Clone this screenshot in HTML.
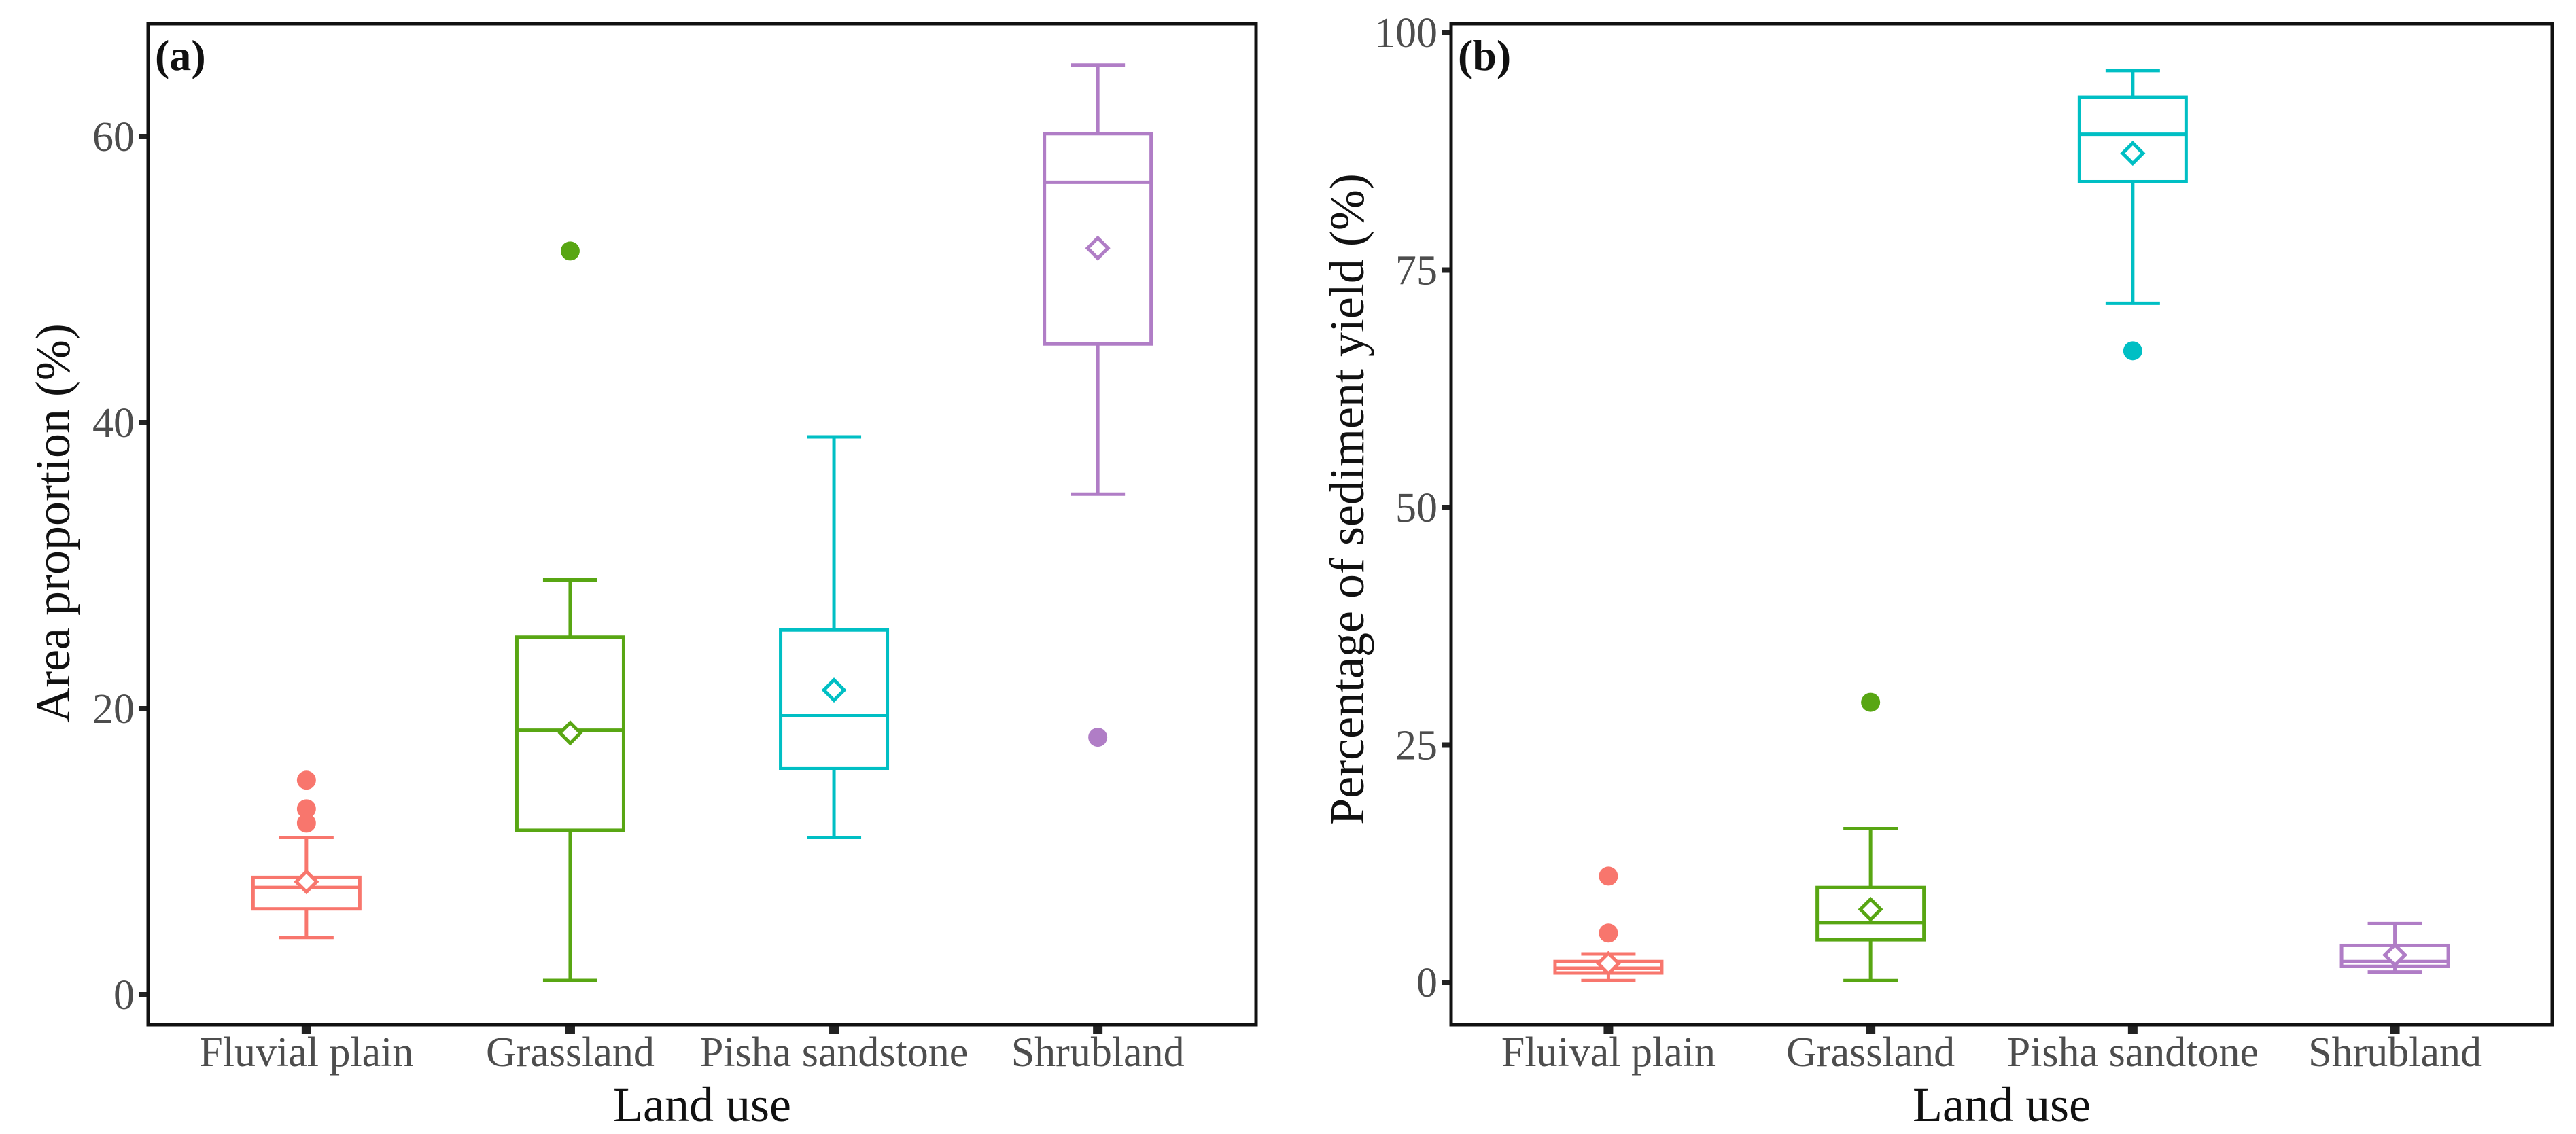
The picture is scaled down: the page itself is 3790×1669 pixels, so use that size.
<!DOCTYPE html>
<html><head><meta charset="utf-8"><style>
html,body{margin:0;padding:0;background:#fff}
svg{display:block}
text{font-family:"Liberation Serif",serif}
</style></head><body>
<svg id="chart" width="3790" height="1669" viewBox="0 0 3790 1669" xmlns="http://www.w3.org/2000/svg"></svg>
<script>
const categoriesA = ["Fluvial plain","Grassland","Pisha sandstone","Shrubland"];
const categoriesB = ["Fluival plain","Grassland","Pisha sandtone","Shrubland"];
const colors = ["#F8766D","#58a613","#00BFC4","#B07DC6"];
// [lower whisker, q1, median, q3, upper whisker]
const statsA = [[4,6,7.5,8.2,11],[1,11.5,18.5,25,29],[11,15.8,19.5,25.5,39],[35,45.5,56.8,60.2,65]];
const meansA = [7.9,18.3,21.3,52.2];
const outliersA = [[12,13,15],[52],[],[18]];
const ticksA = [0,20,40,60];
const statsB = [[0.2,1.0,1.5,2.2,3.0],[0.2,4.5,6.3,10,16.2],[71.5,84.3,89.3,93.2,96],[1.1,1.7,2.2,3.9,6.2]];
const meansB = [2.0,7.7,87.3,2.9];
const outliersB = [[5.2,11.2],[29.5],[66.5],[]];
const ticksB = [0,25,50,75,100];

const NS="http://www.w3.org/2000/svg";
const svg=document.getElementById('chart');
function mk(tag,attrs,parent){const e=document.createElementNS(NS,tag);for(const k in attrs)e.setAttribute(k,attrs[k]);(parent||svg).appendChild(e);return e;}

function panel(cfg){
  const g=mk('g',{});
  
  
  const unit=(cfg.right-cfg.left)/(cfg.cats.length-1+1.2);
  const xs=i=>cfg.left+unit*(0.6+i);
  const ys=v=>cfg.y0+(cfg.y1-cfg.y0)*(v-cfg.v0)/(cfg.v1-cfg.v0);
  const bw=157, cw=80;
  cfg.ticks.forEach(t=>{
    const tk=mk('rect',{x:cfg.left-13,y:ys(t)-4,width:13,height:8,fill:'#222'},g);
    
    
    const tl=mk('text',{x:cfg.left-20,y:ys(t)+21,'text-anchor':'end','font-size':62,fill:'#4d4d4d'},g);
    tl.textContent=t;
    
    
  });
  cfg.cats.forEach((c,i)=>{
    const x=xs(i), s=cfg.stats[i], col=colors[i];
    const bg=mk('g',{stroke:col,'stroke-width':5,fill:'none'},g);
    
    
    mk('line',{x1:x,x2:x,y1:ys(s[0]),y2:ys(s[1])},bg);
    mk('line',{x1:x,x2:x,y1:ys(s[3]),y2:ys(s[4])},bg);
    mk('line',{x1:x-cw/2,x2:x+cw/2,y1:ys(s[0]),y2:ys(s[0])},bg);
    mk('line',{x1:x-cw/2,x2:x+cw/2,y1:ys(s[4]),y2:ys(s[4])},bg);
    mk('rect',{x:x-bw/2,y:ys(s[3]),width:bw,height:ys(s[1])-ys(s[3])},bg);
    mk('line',{x1:x-bw/2,x2:x+bw/2,y1:ys(s[2]),y2:ys(s[2])},bg);
    const my=ys(cfg.means[i]);
    const d=mk('polygon',{points:`${x},${my-15} ${x+15},${my} ${x},${my+15} ${x-15},${my}`,fill:'#fff',stroke:col,'stroke-width':5},g);
    
    
    cfg.outliers[i].forEach(o=>{
      const p=mk('circle',{cx:x,cy:ys(o),r:14,fill:col},g);
      
      
    });
    const xt=mk('rect',{x:x-7,y:cfg.y1f+2,width:14,height:12,fill:'#222'},g);
    
    
    const xl=mk('text',{x:x,y:1569,'text-anchor':'middle','font-size':62,fill:'#4d4d4d'},g);
    xl.textContent=c;
    
    
  });
  const fr=mk('rect',{x:cfg.left,y:cfg.top,width:cfg.right-cfg.left,height:cfg.y1f-cfg.top,fill:'none',stroke:'#111','stroke-width':5},g);
  
  
  const pl=mk('text',{x:cfg.left+10,y:cfg.top+68,'font-size':64,'font-weight':'bold',fill:'#111'},g);
  pl.textContent=cfg.label;
  
  
  const xtl=mk('text',{x:(cfg.left+cfg.right)/2,y:1650,'text-anchor':'middle','font-size':72,fill:'#111'},g);
  xtl.textContent='Land use';
  
  
  const ytl=mk('text',{x:0,y:0,'text-anchor':'middle','font-size':72,fill:'#111',transform:`translate(${cfg.ytx},${cfg.yty}) rotate(-90)`},g);
  ytl.textContent=cfg.ytitle;
  
  
}
panel({name:'panel-a',label:'(a)',cats:categoriesA,stats:statsA,means:meansA,outliers:outliersA,ticks:ticksA,
  left:218,right:1848,top:35,y1f:1508,v0:0,v1:20,y0:1464,y1:1043,ytitle:'Area proportion (%)',ytx:102,yty:770});
panel({name:'panel-b',label:'(b)',cats:categoriesB,stats:statsB,means:meansB,outliers:outliersB,ticks:ticksB,
  left:2135,right:3755,top:35,y1f:1508,v0:0,v1:100,y0:1446,y1:48,ytitle:'Percentage of sediment yield (%)',ytx:2006,yty:735});
</script>
</body></html>
